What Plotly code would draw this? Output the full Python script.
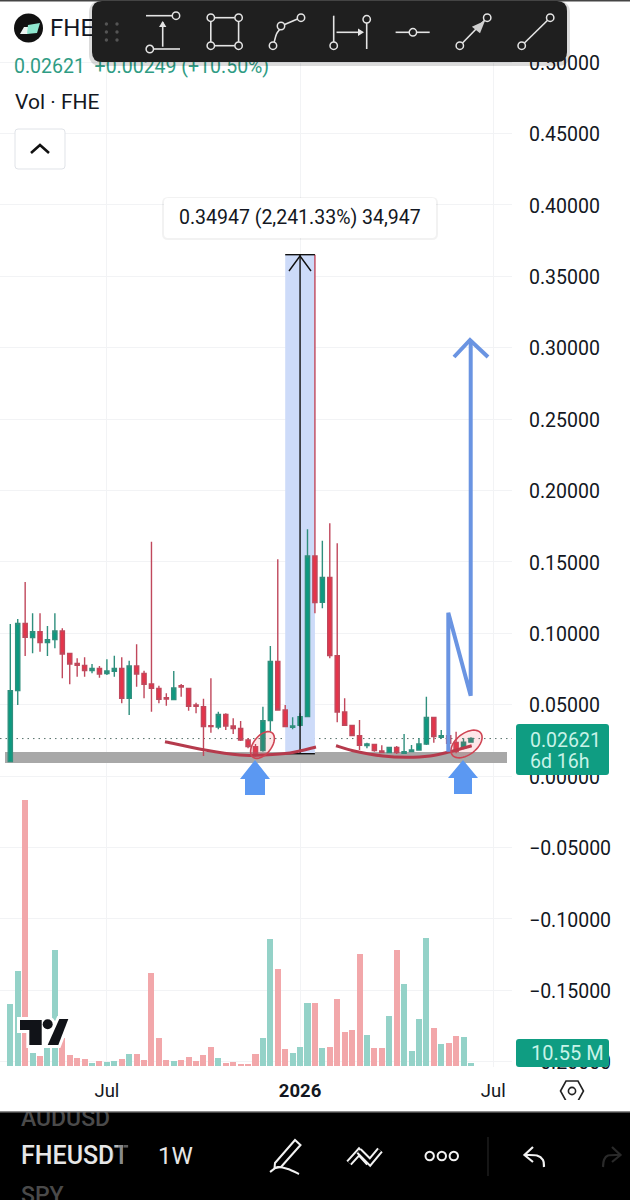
import numpy as np
import pandas as pd
import plotly.graph_objects as go

# ---------- data ----------
first_week = "2025-04-07"
opens = [.01004,.05976,.10691,.09687,.10108,.09337,.09547,.10154,.08590,.07890,.07750,.07376,.07540,.07166,.07330,.07540,.05439,.07703,.07190,.06443,.06139,.05486,.05346,.06326,.06139,.04972,.04855,.03525,.03431,.04318,.03501,.03338,.02521,.02054,
         .01774,.03875,.08030,.04622,.03408,.03548,.04155,.15406,.12162,.13912,.08427,.04482,.03548,.02825,.02124,.02218,.01751,.01634,.02008,.01587,.01704,.01821,.02241,.04108,.02708,.02825,.02358,.01937,.02372]
highs = [.10644,.10995,.13586,.11391,.11391,.10504,.11391,.10341,.08590,.08240,.08310,.07843,.07703,.08170,.08427,.08310,.08077,.09220,.07376,.16410,.06326,.05789,.07353,.06443,.06139,.05135,.05416,.06840,.04505,.04389,.04038,.03852,.02638,.02241,
         .04855,.09104,.15173,.04972,.04108,.04389,.17274,.36507,.16480,.17694,.16293,.05439,.03548,.03922,.02334,.02218,.02148,.02054,.02101,.02941,.02171,.02638,.05556,.04108,.03221,.02918,.03105,.02638,.02708]
lows = [.01004,.04972,.08403,.08590,.08707,.08403,.08940,.06840,.06419,.06956,.06956,.07190,.06886,.07073,.06956,.05089,.04272,.06256,.05439,.04505,.05089,.04925,.05322,.05556,.04575,.04389,.01401,.03035,.03268,.03221,.02941,.02451,.01937,.01354,
        .01704,.03105,.04575,.03408,.03268,.03455,.04108,.11391,.11742,.08240,.03758,.03501,.02801,.01821,.01937,.01704,.01587,.01587,.01541,.01541,.01681,.01774,.02171,.02334,.02614,.01821,.01587,.01867,.02334]
closes = [.05976,.10691,.09711,.10108,.09337,.09547,.10154,.08544,.07843,.07750,.07376,.07540,.07143,.07353,.07540,.05439,.07703,.07143,.06419,.06139,.05369,.05392,.06163,.06233,.04879,.04879,.03455,.03455,.04318,.03501,.03315,.02521,.02054,.01587,
          .03875,.08030,.04622,.03455,.03501,.04155,.15406,.12138,.13912,.08427,.04482,.03548,.02825,.02148,.02241,.01774,.01634,.02008,.01634,.01704,.01821,.02241,.04108,.02754,.02825,.02288,.01704,.02372,.02621]
volumes_m = [282,435,1222,57,44,84,532,126,49,34,31,12,21,18,21,31,52,52,26,428,127,26,20,26,38,20,48,84,34,12,18,9,9,55,
             126,581,443,75,57,86,287,290,83,86,308,155,163,512,141,80,83,230,530,377,66,215,586,172,100,104,136,133,10.55]
price_ticks = [0.5,0.45,0.4,0.35,0.3,0.25,0.2,0.15,0.1,0.05,0.0,-0.05,-0.1,-0.15,-0.2]
time_tick_weeks = [13, 39, 65]
time_tick_labels = ["Jul", "<b>2026</b>", "Jul"]
last_price = 0.02621

# ---------- layout geometry ----------
W, H = 630, 1200
PW, PH = 512, 1067
X0, STEP = 10.3, 7.43          # pixel of first candle, pixels per week
Y_ZERO, PX_PER_UNIT = 776, 1428
GREEN, RED = "#0c9a80", "#e5344a"
GREEN_W, RED_W = "#2f8f7d", "#c0485c"
GREEN_V, RED_V = "#94d2c8", "#f2a7aa"
INK = "#131722"
FONT = "Roboto"

d0 = pd.Timestamp(first_week)
dates = [d0 + pd.Timedelta(weeks=i) for i in range(len(closes))]
def wk(i): return d0 + pd.Timedelta(days=7 * float(i))
def dx(px): return wk((px - X0) / STEP).strftime("%Y-%m-%d %H:%M:%S")
def dy(py): return (Y_ZERO - py) / PX_PER_UNIT
def X(px): return px / PW
def Y(py): return 1 - py / H

def poly(pts, close=False):
    s = "M " + " L ".join(f"{X(a):.5f},{Y(b):.5f}" for a, b in pts)
    return s + (" Z" if close else "")

def spline(pts):
    p = [pts[0]] + list(pts) + [pts[-1]]
    s = f"M {X(p[1][0]):.5f},{Y(p[1][1]):.5f}"
    for i in range(1, len(p) - 2):
        c1 = (p[i][0] + (p[i+1][0] - p[i-1][0]) / 6, p[i][1] + (p[i+1][1] - p[i-1][1]) / 6)
        c2 = (p[i+1][0] - (p[i+2][0] - p[i][0]) / 6, p[i+1][1] - (p[i+2][1] - p[i][1]) / 6)
        s += f" C {X(c1[0]):.5f},{Y(c1[1]):.5f} {X(c2[0]):.5f},{Y(c2[1]):.5f} {X(p[i+1][0]):.5f},{Y(p[i+1][1]):.5f}"
    return s

def rrect(x0, y0, x1, y1, r):
    def q(cx, cy, ex, ey): return f"Q {X(cx):.5f},{Y(cy):.5f} {X(ex):.5f},{Y(ey):.5f}"
    return (f"M {X(x0+r):.5f},{Y(y0):.5f} L {X(x1-r):.5f},{Y(y0):.5f} " + q(x1, y0, x1, y0+r) +
            f" L {X(x1):.5f},{Y(y1-r):.5f} " + q(x1, y1, x1-r, y1) +
            f" L {X(x0+r):.5f},{Y(y1):.5f} " + q(x0, y1, x0, y1-r) +
            f" L {X(x0):.5f},{Y(y0+r):.5f} " + q(x0, y0, x0+r, y0) + " Z")

def ellipse(cx, cy, a, b, deg):
    t = np.radians(deg)
    pts = []
    for u in np.linspace(0, 2 * np.pi, 49):
        ex, ey = a * np.cos(u), b * np.sin(u)
        pts.append((cx + ex * np.cos(t) - ey * np.sin(t), cy + ex * np.sin(t) + ey * np.cos(t)))
    return poly(pts, True)

shapes = []
def add(path, color="rgba(0,0,0,0)", fill="rgba(0,0,0,0)", width=1.5, layer="above"):
    shapes.append(dict(type="path", xref="paper", yref="paper", path=path, layer=layer,
                       fillcolor=fill, line=dict(color=color, width=width)))
def circ(cx, cy, r, color, fill="rgba(0,0,0,0)", width=1.5):
    shapes.append(dict(type="circle", xref="paper", yref="paper", x0=X(cx-r), x1=X(cx+r), y0=Y(cy+r), y1=Y(cy-r),
                       fillcolor=fill, line=dict(color=color, width=width), layer="above"))
def rect(x0, y0, x1, y1, fill, layer="above"):
    shapes.append(dict(type="rect", xref="paper", yref="paper", x0=X(x0), x1=X(x1), y0=Y(y1), y1=Y(y0),
                       fillcolor=fill, line=dict(width=0), layer=layer))

# ---------- traces ----------
fig = go.Figure()
fig.add_trace(go.Bar(x=dates, y=volumes_m, yaxis="y2", width=0.81 * 7 * 86400000,
                     marker=dict(color=[GREEN_V if c >= o else RED_V for o, c in zip(opens, closes)], line=dict(width=0)),
                     showlegend=False, hoverinfo="skip"))
fig.add_trace(go.Candlestick(x=dates, open=opens, high=highs, low=lows, close=closes, whiskerwidth=0,
                             increasing=dict(line=dict(color=GREEN_W, width=1.4), fillcolor=GREEN),
                             decreasing=dict(line=dict(color=RED_W, width=1.4), fillcolor=RED),
                             showlegend=False, hoverinfo="skip"))

def text_trace(px, py, s, size, color, weight=400, pos="middle right"):
    fig.add_trace(go.Scatter(x=[dx(px)], y=[py], xaxis="x2", yaxis="y3", mode="text", text=[s], textposition=pos,
                             textfont=dict(family=FONT, size=size, color=color, weight=weight),
                             cliponaxis=False, showlegend=False, hoverinfo="skip"))

text_trace(14, 68, "0.02621  +0.00249 (+10.50%)", 19.5, "#2f9c84")
text_trace(50, 30, "FHE", 24, INK)
text_trace(21, 1120, "AUDUSD", 23, "#4a4a4a", 500)
text_trace(21, 1158, "FHEUSDT", 25, "#e6e6e6", 500)
text_trace(158, 1158, "1W", 24, "#e6e6e6", 400)
text_trace(21, 1197, "SPY", 23, "#4a4a4a", 500)

# ---------- drawings anchored to the price scale ----------
band = dict(xref="x", yref="y", layer="between", line=dict(width=0))
shapes.append(dict(type="rect", x0=dx(5), x1=dx(507), y0=0.0091, y1=0.0168, fillcolor="#a8a8a8", **band))
shapes.append(dict(type="rect", x0=wk(37), x1=wk(41), y0=0.0156, y1=0.36507, fillcolor="#cddbf9", **band))
shapes.append(dict(type="line", xref="paper", yref="y", x0=0, x1=1, y0=last_price, y1=last_price,
                   line=dict(color="#56706a", width=1, dash="1.5px,4px"), layer="between"))
for yv in (0.0156, 0.36507):
    shapes.append(dict(type="line", xref="x", yref="y", x0=wk(37), x1=wk(41), y0=yv, y1=yv,
                       line=dict(color="#111", width=1.4), layer="above"))
shapes.append(dict(type="line", xref="x", yref="y", x0=wk(39), x1=wk(39), y0=0.0156, y1=0.36507,
                   line=dict(color="#111", width=1.4), layer="above"))
add(poly([(289, 271), (300, 256), (311, 271)]), "#111", width=1.4)

# hand drawn marks
add(spline([(165,741.7),(205,750),(240,755),(262,755),(290,753),(316,747)]), "#b53a4c", width=3)
add(spline([(336,745.7),(353,750.7),(383,756),(407,757.3),(430,756),(450,751.7),(471.7,745.7)]), "#b53a4c", width=3)
add(ellipse(262.5, 745, 15.5, 9, -52), "#cf4453", "rgba(240,70,80,0.13)", 1.6)
add(ellipse(466.5, 744, 18, 10.5, -38), "#cf4453", "rgba(240,70,80,0.13)", 1.6)
add(poly([(448.3,751.7),(448.3,612.7),(470.7,695.7),(470.7,340)]), "#6a94e2", width=4)
add(poly([(454,357),(470,340),(488,357)]), "#6a94e2", width=4)
for tip, hw, sw, y1, y2 in [(255,15,10,779,795), (463,15,9,778,794)]:
    add(poly([(tip,760),(tip+hw,y1),(tip+sw,y1),(tip+sw,y2),(tip-sw,y2),(tip-sw,y1),(tip-hw,y1)], True),
        fill="#5b98f2", width=0)

# measure tooltip
add(rrect(162, 197, 438, 240, 6), fill="rgba(0,0,0,0.05)", width=0)
add(rrect(164, 198, 436, 238, 4), fill="#ffffff", width=0)

# price tags
add(rrect(516, 724, 609, 775, 3), fill="#0f9d82", width=0)
add(rrect(516, 1039, 609, 1067, 3), fill="#0f9d82", width=0)

# legend button
add(rrect(15, 129, 65, 169, 3), "#e0e3e8", "#ffffff", 1)
add(poly([(31,153),(40,145),(49,153)]), "#111", width=2.6)

# logo top-left
circ(28.5, 28, 14.5, "#111", "#111", 0)
add(poly([(20,34),(24,27),(31,27),(28,34)], True), fill="#eef5f3", width=0)
add(poly([(28,25),(40,23),(37,33),(27,34)], True), fill="#8fe8cf", width=0)

# TradingView mark
logo_parts = [poly([(20,1020),(41.7,1020),(41.7,1045),(29.3,1045),(29.3,1030),(20,1030)], True),
              poly([(59.3,1019),(68.3,1019),(58.3,1045),(47.7,1045)], True)]
for p in logo_parts:
    add(p, "#ffffff", "#ffffff", 6)
circ(47.7, 1024.3, 5, "#ffffff", "#ffffff", 6)
for p in logo_parts:
    add(p, fill="#111318", width=0)
circ(47.7, 1024.3, 5, "#111318", "#111318", 0)

# settings hexagon
hexa = [(560.5,1091),(566,1081),(578,1081),(583.5,1091),(578,1101),(566,1101)]
add(poly(hexa, True), "#222", width=1.6)
circ(572, 1091, 3.6, "#222", width=1.6)

# top toolbar
rect(0, 0, 630, 1.5, "#444444")
add(rrect(89, 1, 570, 66, 12), fill="rgba(0,0,0,0.14)", width=0)
add(rrect(92, 1, 567, 62, 10), fill="#1f1f1f", width=0)
for gx in (106.4, 117):
    for gy in (24, 32, 40):
        circ(gx, gy, 1.7, "#555555", "#555555", 0)
TB = "#e4e4e4"
def seg(a, b, col=TB, w=1.6): add(poly([a, b]), col, width=w)
seg((146,15.7),(172,15.7)); circ(176,15.7,3.7,TB)
seg((153.8,49),(180,49)); circ(149.8,49,3.7,TB)
seg((162.7,46.7),(162.7,22)); add(poly([(159,27),(162.7,21),(166.4,27)], True), fill=TB, width=0)
for (a,b) in [((214.6,17.7),(234.8,17.7)),((214.6,45.7),(234.8,45.7)),((210.8,21.5),(210.8,41.9)),((238.6,21.5),(238.6,41.9))]:
    seg(a,b)
for cx in (210.8,238.6):
    for cy in (17.7,45.7):
        circ(cx,cy,3.7,TB)
circ(273,45.7,3.7,TB); circ(281,26,3.7,TB); circ(301,17.7,3.7,TB)
add(spline([(274.2,42),(276.5,34),(279.7,29.5)]), TB, width=1.6); seg((284.6,24.6),(297.5,19))
seg((333.7,15.7),(333.7,42)); circ(333.7,45.7,3.7,TB)
seg((366.7,23),(366.7,49)); circ(366.7,19.3,3.7,TB)
seg((336.5,32.3),(360,32.3)); add(poly([(358,28.5),(364,32.3),(358,36)], True), fill=TB, width=0)
seg((395.6,32.3),(409,32.3)); seg((416.8,32.3),(429.7,32.3)); circ(412.9,32.3,3.7,TB)
seg((462.5,43),(484.6,20.2)); circ(459.8,45.7,3.7,TB); circ(487.2,17.7,3.7,TB)
add(poly([(471.9,26.7),(485,20.7),(480,33.3)], True), fill="#cfcfcf", width=0)
seg((524.4,43),(547.6,20.2)); circ(521.7,45.7,3.7,TB); circ(550.2,17.7,3.7,TB)

# bottom bar
rect(0, 1112, 630, 1200, "#000000", layer="below")
rect(0, 1100, 630, 1112, "#ffffff")
rect(0, 1111, 630, 1112.5, "#8c8c8c")
for fx, fa in [(112,0.2),(118,0.4),(123,0.6),(128,0.8)]:
    rect(fx, 1144, fx+6, 1170, f"rgba(0,0,0,{fa})")
WH = "#f2f2f2"
add(poly([(275,1163),(295,1140),(300.5,1145),(281,1167),(274.5,1168)], True), WH, "#000", 2)
add(spline([(270,1172),(278,1167),(288,1169),(299,1174)]), WH, width=2)
add(poly([(349,1163),(359,1152),(369,1163)]), WH, width=7)
add(poly([(349,1163),(359,1152),(369,1163)]), "#000", width=3)
add(poly([(359,1151),(370,1162),(380,1150)]), WH, width=7)
add(poly([(359,1151),(370,1162),(380,1150)]), "#000", width=3)
for cx in (429.7, 441.8, 453.8):
    circ(cx, 1156, 4.2, WH, width=2)
seg((488,1137),(488,1176), "#2c2c2c", 1)
add(poly([(533,1147),(524.5,1155),(533,1162)]), WH, width=2.2)
add(spline([(525,1155),(537,1155.5),(543,1160),(544,1167)]), WH, width=2.2)
add(poly([(612,1147),(620.5,1155),(612,1162)]), "#2a2a2a", width=2.2)
add(spline([(620,1155),(608,1155.5),(604,1160),(603,1167)]), "#2a2a2a", width=2.2)

# annotations
def note(px, py, s, size, color, anchor="left", weight=400):
    return dict(xref="paper", yref="paper", x=X(px), y=Y(py), text=s, showarrow=False, xanchor=anchor, yanchor="middle",
                font=dict(family=FONT, size=size, color=color, weight=weight))
annotations = [
    note(300, 218, "0.34947 (2,241.33%) 34,947", 19.5, INK, "center"),
    note(528, 740, "0.02621", 19.5, "#c8f3e8"),
    note(528, 761, "6d 16h", 19.5, "#c8f3e8"),
    note(529, 1053, "10.55 M", 20, "#c8f3e8"),
    note(13, 102, "Vol · FHE", 21, INK),
]

DOM = [(H - PH) / H, 1]
hidden = dict(showgrid=False, showticklabels=False, zeroline=False, showline=False, ticks="", automargin=False)
fig.update_layout(
    width=W, height=H, margin=dict(l=0, r=W-PW, t=0, b=0, autoexpand=False),
    paper_bgcolor="#ffffff", plot_bgcolor="rgba(0,0,0,0)",
    hovermode=False, bargap=0, showlegend=False, boxgap=0.2,
    font=dict(family=FONT, color=INK),
    xaxis=dict(type="date", range=[dx(0), dx(PW)], rangeslider=dict(visible=False), automargin=False,
               tickmode="array", tickvals=[wk(i) for i in time_tick_weeks], ticktext=time_tick_labels,
               tickfont=dict(size=18.5, color=INK), showgrid=True, gridcolor="#f2f3f5", gridwidth=1,
               showline=False, zeroline=False, ticks="", ticklabelstandoff=10),
    xaxis2=dict(type="date", range=[dx(0), dx(PW)], anchor="y3", **hidden),
    yaxis=dict(domain=DOM, side="right", range=[dy(PH), dy(0)], tickmode="array", tickvals=price_ticks, tickformat=".5f",
               tickfont=dict(size=19.5, color=INK), showgrid=True, gridcolor="#f2f3f5", gridwidth=1, automargin=False,
               zeroline=False, showline=False, ticks="", ticklabelstandoff=16, ticklabelshift=1),
    yaxis2=dict(domain=DOM, overlaying="y", side="right", range=[(1065.7-PH)*4.6, 1065.7*4.6], **hidden),
    yaxis3=dict(domain=[0, 1], range=[H, 0], anchor="x2", **hidden),
    shapes=shapes, annotations=annotations,
)
fig.write_html("out.html", config=dict(displayModeBar=False, staticPlot=True),
               post_script="document.body.style.margin='0';document.documentElement.style.overflow='hidden';")
